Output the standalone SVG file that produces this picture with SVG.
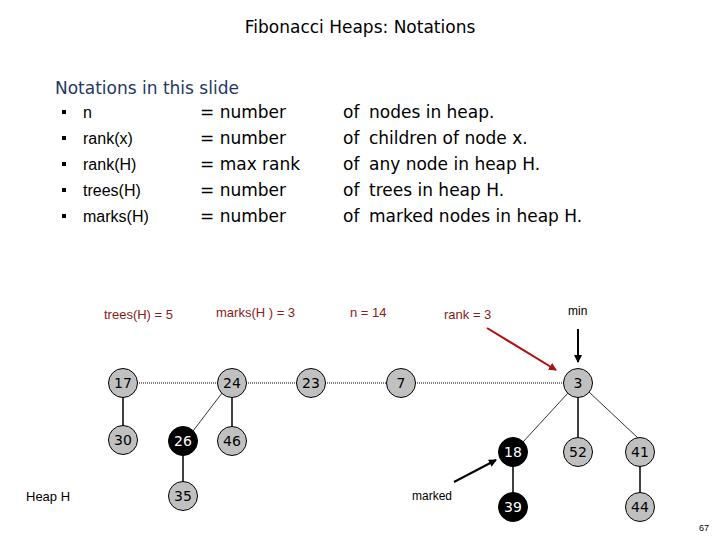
<svg xmlns="http://www.w3.org/2000/svg" width="720" height="540" viewBox="0 0 720 540">
<defs>
<style>
.t{font-family:"DejaVu Sans",sans-serif;font-size:17px;fill:#000}
.h{font-family:"DejaVu Sans",sans-serif;font-size:17px;fill:#1f3864}
.b{font-family:"Liberation Sans",Arial,sans-serif;font-size:16px;fill:#000}
.r{font-family:"Liberation Sans",Arial,sans-serif;font-size:13px;fill:#8b1a1a}
.s{font-family:"Liberation Sans",Arial,sans-serif;font-size:12px;fill:#000}
.n circle{fill:#c0c0c0;stroke:#000;stroke-width:1}
.n text{font-family:"DejaVu Sans",sans-serif;font-size:14px;fill:#000;text-anchor:middle;dominant-baseline:central}
.m circle{fill:#000}
.m text{fill:#fff}
.d{stroke:#000;stroke-dasharray:1 1;stroke-width:1}
.e{stroke:#000;stroke-width:1.5}
.e1{stroke:#000;stroke-width:0.8}
</style>
<marker id="ak" markerWidth="8" markerHeight="8" refX="7" refY="4" orient="auto" markerUnits="userSpaceOnUse"><path d="M0,0 L8,4 L0,8 z" fill="#000"/></marker>
<marker id="ar" markerWidth="8" markerHeight="8" refX="7" refY="4" orient="auto" markerUnits="userSpaceOnUse"><path d="M0,0 L8,4 L0,8 z" fill="#b01010"/></marker>
</defs>
<rect width="720" height="540" fill="#fff"/>
<text class="t" x="360" y="33" text-anchor="middle">Fibonacci Heaps: Notations</text>
<text class="h" x="55" y="94">Notations in this slide</text>
<g fill="#000"><rect x="62" y="110" width="4" height="4"/><rect x="62" y="136" width="4" height="4"/><rect x="62" y="162" width="4" height="4"/><rect x="62" y="188" width="4" height="4"/><rect x="62" y="214" width="4" height="4"/></g>
<text class="b" x="83" y="118">n</text>
<text class="b" x="83" y="144">rank(x)</text>
<text class="b" x="83" y="170">rank(H)</text>
<text class="b" x="83" y="196">trees(H)</text>
<text class="b" x="83" y="222">marks(H)</text>
<text class="t" x="200" y="118">= number</text>
<text class="t" x="200" y="144">= number</text>
<text class="t" x="200" y="170">= max rank</text>
<text class="t" x="200" y="196">= number</text>
<text class="t" x="200" y="222">= number</text>
<text class="t" x="343" y="118">of</text><text class="t" x="369" y="118">nodes in heap.</text>
<text class="t" x="343" y="144">of</text><text class="t" x="369" y="144">children of node x.</text>
<text class="t" x="343" y="170">of</text><text class="t" x="369" y="170">any node in heap H.</text>
<text class="t" x="343" y="196">of</text><text class="t" x="369" y="196">trees in heap H.</text>
<text class="t" x="343" y="222">of</text><text class="t" x="369" y="222">marked nodes in heap H.</text>
<text class="r" x="104" y="319">trees(H) = 5</text>
<text class="r" x="216" y="317">marks(H ) = 3</text>
<text class="r" x="350" y="317">n = 14</text>
<text class="r" x="444" y="319">rank = 3</text>
<text class="s" x="568" y="315">min</text>
<text class="s" x="412" y="500">marked</text>
<text class="b" x="26" y="501" style="font-size:13px">Heap H</text>
<text class="s" x="699" y="531" style="font-size:9px">67</text>
<g id="connectors">
<line class="d" x1="137" y1="383" x2="218" y2="383"/>
<line class="d" x1="246" y1="383" x2="297" y2="383"/>
<line class="d" x1="325" y1="383" x2="387" y2="383"/>
<line class="d" x1="415" y1="383" x2="564" y2="383"/>
<line class="e" x1="123" y1="397" x2="123" y2="426"/>
<line class="e1" x1="222" y1="393" x2="193" y2="431"/>
<line class="e" x1="232" y1="397" x2="232" y2="427"/>
<line class="e" x1="183" y1="455" x2="183" y2="482"/>
<line class="e1" x1="568" y1="393" x2="523" y2="442"/>
<line class="e" x1="578" y1="397" x2="578" y2="438"/>
<line class="e1" x1="589" y1="392" x2="638" y2="438"/>
<line class="e" x1="513" y1="466" x2="513" y2="493"/>
<line class="e" x1="640" y1="466" x2="640" y2="493"/>
<line stroke="#000" stroke-width="2" x1="578" y1="329" x2="578" y2="362" marker-end="url(#ak)"/>
<line stroke="#b01010" stroke-width="2" x1="487" y1="328" x2="556" y2="370" marker-end="url(#ar)"/>
<line stroke="#000" stroke-width="2" x1="454" y1="482" x2="496" y2="460" marker-end="url(#ak)"/>
</g>
<g id="n17" class="n"><circle cx="123" cy="383" r="14.5"/><text x="123" y="383">17</text></g>
<g id="n24" class="n"><circle cx="232" cy="383" r="14.5"/><text x="232" y="383">24</text></g>
<g id="n23" class="n"><circle cx="311" cy="383" r="14.5"/><text x="311" y="383">23</text></g>
<g id="n7" class="n"><circle cx="401" cy="383" r="14.5"/><text x="401" y="383">7</text></g>
<g id="n3" class="n"><circle cx="578" cy="383" r="14.5"/><text x="578" y="383">3</text></g>
<g id="n30" class="n"><circle cx="123" cy="440" r="14.5"/><text x="123" y="440">30</text></g>
<g id="n26" class="n m"><circle cx="183" cy="441" r="14.5"/><text x="183" y="441">26</text></g>
<g id="n46" class="n"><circle cx="232" cy="441" r="14.5"/><text x="232" y="441">46</text></g>
<g id="n35" class="n"><circle cx="183" cy="496" r="14.5"/><text x="183" y="496">35</text></g>
<g id="n18" class="n m"><circle cx="513" cy="452" r="14.5"/><text x="513" y="452">18</text></g>
<g id="n52" class="n"><circle cx="578" cy="452" r="14.5"/><text x="578" y="452">52</text></g>
<g id="n41" class="n"><circle cx="640" cy="452" r="14.5"/><text x="640" y="452">41</text></g>
<g id="n39" class="n m"><circle cx="513" cy="507" r="14.5"/><text x="513" y="507">39</text></g>
<g id="n44" class="n"><circle cx="640" cy="507" r="14.5"/><text x="640" y="507">44</text></g>
</svg>
